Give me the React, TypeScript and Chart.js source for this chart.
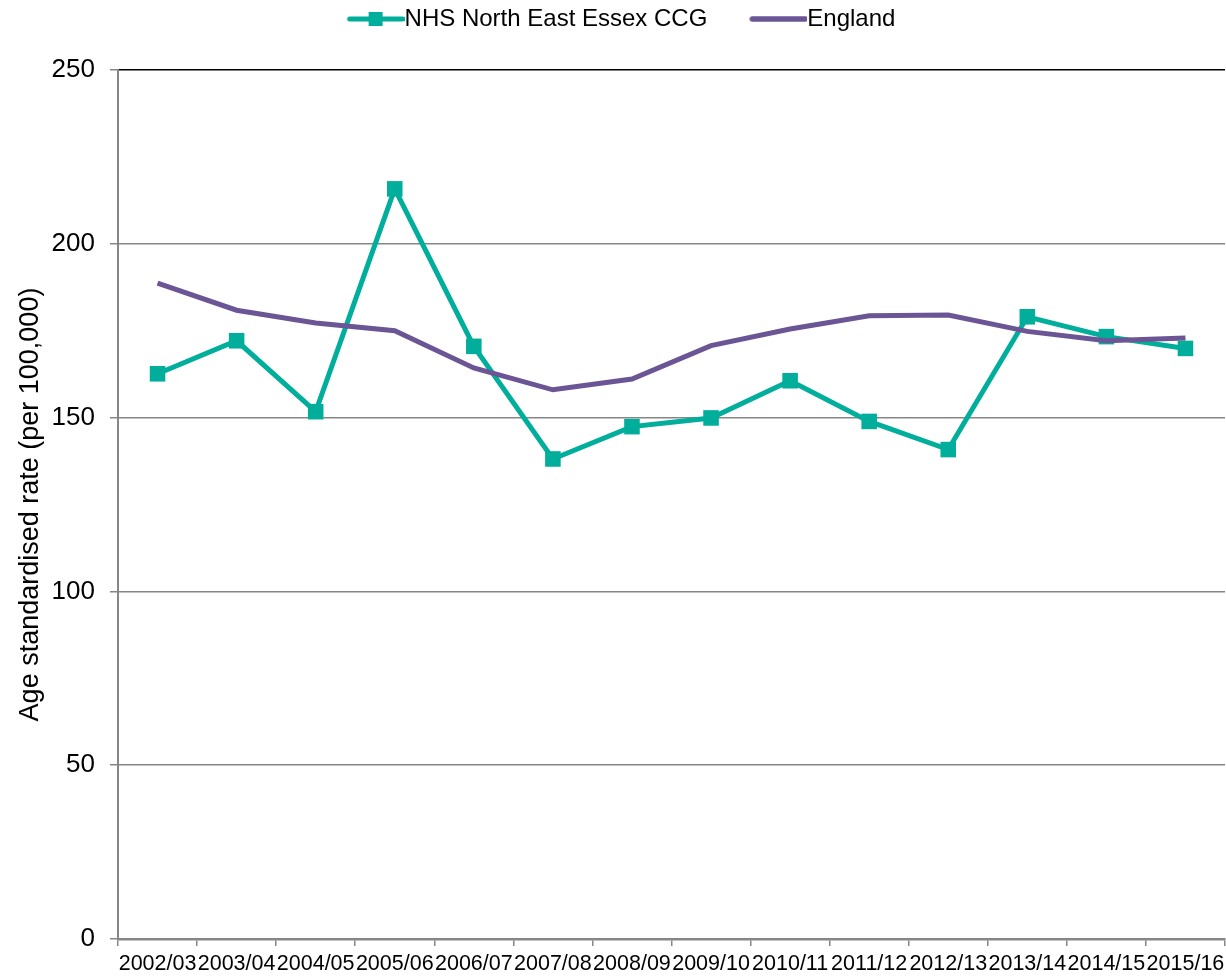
import React, { useEffect, useRef } from "react";
import { Chart, registerables } from "chart.js";

Chart.register(...registerables);

const categories = [
  "2002/03", "2003/04", "2004/05", "2005/06", "2006/07", "2007/08", "2008/09",
  "2009/10", "2010/11", "2011/12", "2012/13", "2013/14", "2014/15", "2015/16",
];
const nhsValues = [162.6, 172.1, 151.7, 215.8, 170.5, 138.1, 147.4, 149.9, 160.6, 148.9, 140.8, 179.0, 173.3, 169.9];
const englandValues = [188.7, 180.9, 177.2, 175.0, 164.3, 158.0, 161.1, 170.7, 175.5, 179.3, 179.5, 174.8, 172.1, 172.9];
const yTicks = [0, 50, 100, 150, 200, 250];
const seriesNames = ["NHS North East Essex CCG", "England"];

const TEAL = "#00AE9B";
const PURPLE = "#6B5594";
const GRID = "#868686";
const FONT = "'Liberation Sans', Arial, sans-serif";

const SHIFT = 19; // canvas left offset (px) so legend centres like the reference
const CANVAS_W = 1255;
const CANVAS_H = 977;

function makeLegendImage(color: string, lineW: number, withMarker: boolean, totalW: number) {
  const c = document.createElement("canvas");
  c.width = totalW;
  c.height = 16;
  const g = c.getContext("2d")!;
  const visible = 58;
  g.strokeStyle = color;
  g.lineWidth = lineW;
  g.lineCap = "round";
  g.beginPath();
  g.moveTo(totalW - visible + 3, 8);
  g.lineTo(totalW - 2, 8);
  g.stroke();
  if (withMarker) {
    g.fillStyle = color;
    g.fillRect(totalW - visible / 2 - 7, 1, 14, 14);
  }
  return c;
}

export default function App() {
  const ref = useRef<HTMLCanvasElement | null>(null);

  useEffect(() => {
    if (!ref.current) return;
    const legendFont = 24;
    const legendPad = 7;
    const boxW = 100 - legendFont / 2 - legendPad;
    const imgW = Math.round(boxW + legendFont);
    const nhsImg = makeLegendImage(TEAL, 5, true, imgW);
    const engImg = makeLegendImage(PURPLE, 5.5, false, imgW);

    const legendSpacer = {
      id: "legendSpacer",
      beforeUpdate(chart: any) {
        const lg = chart.legend;
        if (lg && !lg.__spaced) {
          const orig = lg.fit;
          lg.fit = function () {
            orig.call(this);
            this.height += 29;
          };
          lg.__spaced = true;
        }
      },
    };

    const chart = new Chart(ref.current, {
      type: "line",
      data: {
        labels: categories,
        datasets: [
          {
            label: seriesNames[0],
            data: nhsValues,
            borderColor: TEAL,
            backgroundColor: TEAL,
            borderWidth: 5,
            pointStyle: "rect",
            pointRadius: 11,
            pointBorderWidth: 0,
            pointBackgroundColor: TEAL,
            tension: 0,
            order: 1,
          },
          {
            label: seriesNames[1],
            data: englandValues,
            borderColor: PURPLE,
            backgroundColor: PURPLE,
            borderWidth: 5,
            pointRadius: 0,
            tension: 0,
            order: 0,
          },
        ],
      },
      options: {
        responsive: false,
        animation: false,
        layout: { padding: { left: 0, right: CANVAS_W - (1226 + SHIFT), top: 0, bottom: 0 } },
        plugins: {
          tooltip: { enabled: false },
          legend: {
            display: true,
            position: "top",
            labels: {
              usePointStyle: true,
              pointStyleWidth: boxW,
              boxHeight: 16,
              padding: legendPad,
              color: "#000",
              font: { family: FONT, size: legendFont },
              generateLabels: () => [
                { text: seriesNames[0], pointStyle: nhsImg as any, fillStyle: "transparent", strokeStyle: "transparent", lineWidth: 0, hidden: false, datasetIndex: 0 },
                { text: seriesNames[1], pointStyle: engImg as any, fillStyle: "transparent", strokeStyle: "transparent", lineWidth: 0, hidden: false, datasetIndex: 1 },
              ],
            },
          },
        },
        scales: {
          x: {
            type: "category",
            offset: true,
            afterFit: (s: any) => { s.height = 38; },
            border: { display: true, color: GRID, width: 2.5 },
            grid: {
              display: true,
              offset: true,
              drawOnChartArea: false,
              drawTicks: true,
              tickLength: 7,
              color: GRID,
              lineWidth: 1.5,
            },
            ticks: {
              autoSkip: false,
              maxRotation: 0,
              minRotation: 0,
              padding: 5,
              color: "#000",
              font: { family: FONT, size: 21.5 },
            },
          },
          y: {
            min: 0,
            max: 250,
            afterFit: (s: any) => { s.width = 118 + SHIFT; },
            afterBuildTicks: (s: any) => { s.ticks = yTicks.map((v) => ({ value: v })); },
            border: { display: true, color: GRID, width: 2 },
            grid: {
              color: (ctx: any) => (ctx.tick && ctx.tick.value === 250 ? "#000" : GRID),
              tickColor: GRID,
              lineWidth: 1.5,
              tickLength: 8,
            },
            ticks: {
              stepSize: 50,
              padding: 15,
              color: "#000",
              font: { family: FONT, size: 26 },
            },
            title: {
              display: true,
              text: "Age standardised rate (per 100,000)",
              color: "#000",
              font: { family: FONT, size: 27 },
              padding: { top: 33, bottom: 0 },
            },
          },
        },
      },
      plugins: [legendSpacer],
    });
    return () => chart.destroy();
  }, []);

  return (
    <div style={{ position: "fixed", left: 0, top: 0, width: 1226, height: 977, overflow: "hidden", background: "#fff" }}>
      <canvas
        ref={ref}
        width={CANVAS_W}
        height={CANVAS_H}
        style={{ position: "absolute", left: -SHIFT, top: 0, display: "block", width: CANVAS_W, height: CANVAS_H }}
      />
    </div>
  );
}
